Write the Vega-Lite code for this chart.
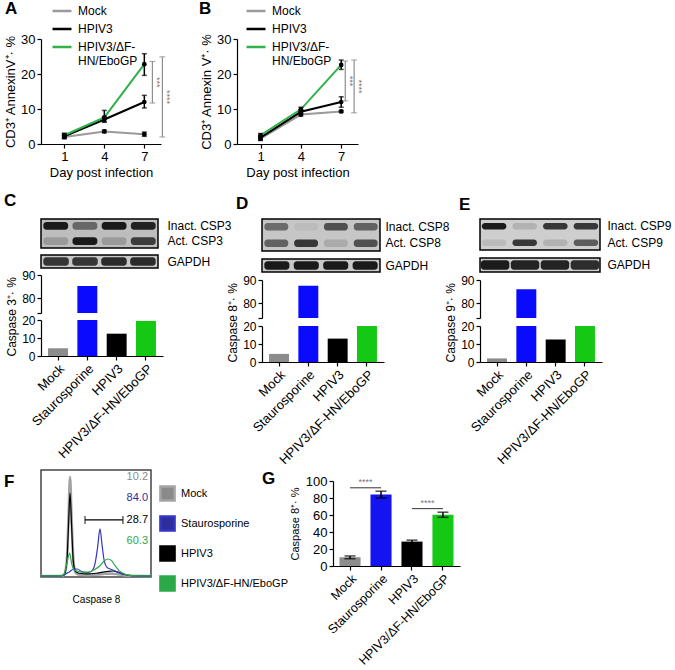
{
  "$schema": "https://vega.github.io/schema/vega-lite/v6.json",
  "padding": {"left": 3, "top": 0, "right": 0, "bottom": 0},
  "background": "white",
  "config": {
    "font": "Liberation Sans",
    "view": {"stroke": null},
    "axis": {"labelFont": "Liberation Sans", "titleFont": "Liberation Sans", "labelColor": "#000", "titleColor": "#000", "domainColor": "#000", "tickColor": "#000", "grid": false, "labelFontSize": 12, "titleFontSize": 13, "titleFontWeight": "normal", "tickSize": 4, "domainWidth": 1.2, "tickWidth": 1.2, "labelPadding": 2, "titlePadding": 3, "labelOverlap": false},
    "legend": {"labelFont": "Liberation Sans", "labelColor": "#000", "padding": 0},
    "title": {"font": "Liberation Sans", "fontSize": 17, "fontWeight": "bold", "color": "#000", "anchor": "start", "frame": "group"}
  },
  "datasets": {
    "lineA": [
      {"day": 1, "grp": "Mock", "m": 2.0, "lo": 1.5, "hi": 2.5},
      {"day": 4, "grp": "Mock", "m": 3.6, "lo": 3.2, "hi": 4.0},
      {"day": 7, "grp": "Mock", "m": 2.8, "lo": 2.2, "hi": 3.4},
      {"day": 1, "grp": "HPIV3", "m": 2.2, "lo": 1.6, "hi": 2.8},
      {"day": 4, "grp": "HPIV3", "m": 7.0, "lo": 6.2, "hi": 7.8},
      {"day": 7, "grp": "HPIV3", "m": 12.0, "lo": 10.3, "hi": 13.9},
      {"day": 1, "grp": "HPIV3/ΔF-HN/EboGP", "m": 2.5, "lo": 1.9, "hi": 3.1},
      {"day": 4, "grp": "HPIV3/ΔF-HN/EboGP", "m": 7.6, "lo": 6.4, "hi": 9.6},
      {"day": 7, "grp": "HPIV3/ΔF-HN/EboGP", "m": 22.8, "lo": 19.6, "hi": 25.8}
    ],
    "lineB": [
      {"day": 1, "grp": "Mock", "m": 1.5, "lo": 1.0, "hi": 2.0},
      {"day": 4, "grp": "Mock", "m": 8.4, "lo": 8.0, "hi": 8.8},
      {"day": 7, "grp": "Mock", "m": 9.3, "lo": 9.0, "hi": 9.6},
      {"day": 1, "grp": "HPIV3", "m": 1.8, "lo": 1.2, "hi": 2.4},
      {"day": 4, "grp": "HPIV3", "m": 9.2, "lo": 8.6, "hi": 9.8},
      {"day": 7, "grp": "HPIV3", "m": 12.0, "lo": 10.5, "hi": 13.5},
      {"day": 1, "grp": "HPIV3/ΔF-HN/EboGP", "m": 2.5, "lo": 2.0, "hi": 3.0},
      {"day": 4, "grp": "HPIV3/ΔF-HN/EboGP", "m": 9.9, "lo": 9.3, "hi": 10.5},
      {"day": 7, "grp": "HPIV3/ΔF-HN/EboGP", "m": 22.6, "lo": 21.3, "hi": 24.0}
    ],
    "sigA": [
      {"bx": 7.6, "b1": 11.7, "b2": 23.6, "stars": "***"},
      {"bx": 8.35, "b1": 2.0, "b2": 24.9, "stars": "****"}
    ],
    "sigB": [
      {"bx": 7.3, "b1": 12.3, "b2": 23.7, "stars": "***"},
      {"bx": 7.96, "b1": 8.9, "b2": 24.0, "stars": "****"}
    ],
    "blotC": [
      {"lane": 1, "band": "Inact. CSP3", "v": 0.95}, {"lane": 2, "band": "Inact. CSP3", "v": 0.5}, {"lane": 3, "band": "Inact. CSP3", "v": 0.95}, {"lane": 4, "band": "Inact. CSP3", "v": 0.9},
      {"lane": 1, "band": "Act. CSP3", "v": 0.2}, {"lane": 2, "band": "Act. CSP3", "v": 0.95}, {"lane": 3, "band": "Act. CSP3", "v": 0.2}, {"lane": 4, "band": "Act. CSP3", "v": 0.75}
    ],
    "blotD": [
      {"lane": 1, "band": "Inact. CSP8", "v": 0.5}, {"lane": 2, "band": "Inact. CSP8", "v": 0.05}, {"lane": 3, "band": "Inact. CSP8", "v": 0.65}, {"lane": 4, "band": "Inact. CSP8", "v": 0.55},
      {"lane": 1, "band": "Act. CSP8", "v": 0.55}, {"lane": 2, "band": "Act. CSP8", "v": 0.8}, {"lane": 3, "band": "Act. CSP8", "v": 0.15}, {"lane": 4, "band": "Act. CSP8", "v": 0.65}
    ],
    "blotE": [
      {"lane": 1, "band": "Inact. CSP9", "v": 0.95}, {"lane": 2, "band": "Inact. CSP9", "v": 0.15}, {"lane": 3, "band": "Inact. CSP9", "v": 0.8}, {"lane": 4, "band": "Inact. CSP9", "v": 0.8},
      {"lane": 1, "band": "Act. CSP9", "v": 0.1}, {"lane": 2, "band": "Act. CSP9", "v": 0.8}, {"lane": 3, "band": "Act. CSP9", "v": 0.15}, {"lane": 4, "band": "Act. CSP9", "v": 0.6}
    ],
    "gapC": [{"lane": 1, "band": "GAPDH", "v": 0.8}, {"lane": 2, "band": "GAPDH", "v": 0.8}, {"lane": 3, "band": "GAPDH", "v": 0.85}, {"lane": 4, "band": "GAPDH", "v": 0.85}],
    "gapD": [{"lane": 1, "band": "GAPDH", "v": 0.95}, {"lane": 2, "band": "GAPDH", "v": 0.95}, {"lane": 3, "band": "GAPDH", "v": 0.95}, {"lane": 4, "band": "GAPDH", "v": 0.95}],
    "gapE": [{"lane": 1, "band": "GAPDH", "v": 0.95}, {"lane": 2, "band": "GAPDH", "v": 0.9}, {"lane": 3, "band": "GAPDH", "v": 0.9}, {"lane": 4, "band": "GAPDH", "v": 0.85}],
    "barsC": [{"cond": "Mock", "val": 4.3}, {"cond": "Staurosporine", "val": 85.2}, {"cond": "HPIV3", "val": 12.4}, {"cond": "HPIV3/ΔF-HN/EboGP", "val": 19.5}],
    "barsD": [{"cond": "Mock", "val": 4.5}, {"cond": "Staurosporine", "val": 87.5}, {"cond": "HPIV3", "val": 13.0}, {"cond": "HPIV3/ΔF-HN/EboGP", "val": 20.5}],
    "barsE": [{"cond": "Mock", "val": 2.0}, {"cond": "Staurosporine", "val": 86.0}, {"cond": "HPIV3", "val": 12.5}, {"cond": "HPIV3/ΔF-HN/EboGP", "val": 20.0}],
    "curves": [
      {"ser": "Mock", "fl": 0, "cnt": 1}, {"ser": "Mock", "fl": 18, "cnt": 1}, {"ser": "Mock", "fl": 21, "cnt": 2}, {"ser": "Mock", "fl": 23.5, "cnt": 15}, {"ser": "Mock", "fl": 25, "cnt": 55}, {"ser": "Mock", "fl": 26.4, "cnt": 93.5}, {"ser": "Mock", "fl": 27.8, "cnt": 55}, {"ser": "Mock", "fl": 29.5, "cnt": 15}, {"ser": "Mock", "fl": 31.5, "cnt": 4}, {"ser": "Mock", "fl": 35, "cnt": 2.2}, {"ser": "Mock", "fl": 45, "cnt": 2}, {"ser": "Mock", "fl": 52, "cnt": 2.3}, {"ser": "Mock", "fl": 58, "cnt": 3}, {"ser": "Mock", "fl": 63, "cnt": 3.2}, {"ser": "Mock", "fl": 68, "cnt": 2.8}, {"ser": "Mock", "fl": 74, "cnt": 1.8}, {"ser": "Mock", "fl": 80, "cnt": 1.2}, {"ser": "Mock", "fl": 100, "cnt": 1},
      {"ser": "HPIV3", "fl": 0, "cnt": 1}, {"ser": "HPIV3", "fl": 18, "cnt": 1}, {"ser": "HPIV3", "fl": 21, "cnt": 2}, {"ser": "HPIV3", "fl": 23.5, "cnt": 14}, {"ser": "HPIV3", "fl": 25, "cnt": 48}, {"ser": "HPIV3", "fl": 26.4, "cnt": 78.5}, {"ser": "HPIV3", "fl": 27.8, "cnt": 48}, {"ser": "HPIV3", "fl": 29.5, "cnt": 13}, {"ser": "HPIV3", "fl": 31.5, "cnt": 5}, {"ser": "HPIV3", "fl": 35, "cnt": 3.5}, {"ser": "HPIV3", "fl": 42, "cnt": 3}, {"ser": "HPIV3", "fl": 50, "cnt": 3.5}, {"ser": "HPIV3", "fl": 56, "cnt": 4.5}, {"ser": "HPIV3", "fl": 61, "cnt": 5.3}, {"ser": "HPIV3", "fl": 65.5, "cnt": 5.6}, {"ser": "HPIV3", "fl": 70, "cnt": 4.5}, {"ser": "HPIV3", "fl": 75, "cnt": 2.6}, {"ser": "HPIV3", "fl": 82, "cnt": 1.3}, {"ser": "HPIV3", "fl": 100, "cnt": 1},
      {"ser": "Staurosporine", "fl": 0, "cnt": 1}, {"ser": "Staurosporine", "fl": 18, "cnt": 1}, {"ser": "Staurosporine", "fl": 22, "cnt": 2.5}, {"ser": "Staurosporine", "fl": 26, "cnt": 5}, {"ser": "Staurosporine", "fl": 30, "cnt": 7.5}, {"ser": "Staurosporine", "fl": 33, "cnt": 7.5}, {"ser": "Staurosporine", "fl": 37, "cnt": 5}, {"ser": "Staurosporine", "fl": 42, "cnt": 4}, {"ser": "Staurosporine", "fl": 46, "cnt": 5.5}, {"ser": "Staurosporine", "fl": 49, "cnt": 12}, {"ser": "Staurosporine", "fl": 51.5, "cnt": 28}, {"ser": "Staurosporine", "fl": 53.6, "cnt": 45}, {"ser": "Staurosporine", "fl": 55.5, "cnt": 30}, {"ser": "Staurosporine", "fl": 57.5, "cnt": 15}, {"ser": "Staurosporine", "fl": 60, "cnt": 9}, {"ser": "Staurosporine", "fl": 64, "cnt": 7}, {"ser": "Staurosporine", "fl": 70, "cnt": 4.5}, {"ser": "Staurosporine", "fl": 76, "cnt": 2.5}, {"ser": "Staurosporine", "fl": 82, "cnt": 1.3}, {"ser": "Staurosporine", "fl": 100, "cnt": 1},
      {"ser": "HPIV3/ΔF-HN/EboGP", "fl": 0, "cnt": 1}, {"ser": "HPIV3/ΔF-HN/EboGP", "fl": 18, "cnt": 1}, {"ser": "HPIV3/ΔF-HN/EboGP", "fl": 21, "cnt": 3}, {"ser": "HPIV3/ΔF-HN/EboGP", "fl": 23.5, "cnt": 13}, {"ser": "HPIV3/ΔF-HN/EboGP", "fl": 26, "cnt": 22.4}, {"ser": "HPIV3/ΔF-HN/EboGP", "fl": 28, "cnt": 12}, {"ser": "HPIV3/ΔF-HN/EboGP", "fl": 30, "cnt": 6.5}, {"ser": "HPIV3/ΔF-HN/EboGP", "fl": 33, "cnt": 5.5}, {"ser": "HPIV3/ΔF-HN/EboGP", "fl": 38, "cnt": 4.5}, {"ser": "HPIV3/ΔF-HN/EboGP", "fl": 43, "cnt": 4.5}, {"ser": "HPIV3/ΔF-HN/EboGP", "fl": 48, "cnt": 6.5}, {"ser": "HPIV3/ΔF-HN/EboGP", "fl": 53, "cnt": 10}, {"ser": "HPIV3/ΔF-HN/EboGP", "fl": 57, "cnt": 14.5}, {"ser": "HPIV3/ΔF-HN/EboGP", "fl": 61, "cnt": 16.8}, {"ser": "HPIV3/ΔF-HN/EboGP", "fl": 64, "cnt": 15.5}, {"ser": "HPIV3/ΔF-HN/EboGP", "fl": 67, "cnt": 11}, {"ser": "HPIV3/ΔF-HN/EboGP", "fl": 71, "cnt": 6}, {"ser": "HPIV3/ΔF-HN/EboGP", "fl": 76, "cnt": 2.8}, {"ser": "HPIV3/ΔF-HN/EboGP", "fl": 82, "cnt": 1.3}, {"ser": "HPIV3/ΔF-HN/EboGP", "fl": 100, "cnt": 1}
    ],
    "gateF": [{"g1": 40, "g2": 74.5, "gy": 53.3}],
    "pctF": [{"ser": "Mock", "pct": "10.2"}, {"ser": "Staurosporine", "pct": "84.0"}, {"ser": "HPIV3", "pct": "28.7"}, {"ser": "HPIV3/ΔF-HN/EboGP", "pct": "60.3"}],
    "barsG": [
      {"cond": "Mock", "val": 10.2, "lo": 8.6, "hi": 11.8},
      {"cond": "Staurosporine", "val": 84.0, "lo": 80.0, "hi": 88.0},
      {"cond": "HPIV3", "val": 28.7, "lo": 27.0, "hi": 30.4},
      {"cond": "HPIV3/ΔF-HN/EboGP", "val": 60.3, "lo": 57.3, "hi": 63.3}
    ],
    "sigG": [
      {"a": "Mock", "b": "Staurosporine", "h": 92, "stars": "****"},
      {"a": "HPIV3", "b": "HPIV3/ΔF-HN/EboGP", "h": 67.5, "stars": "****"}
    ]
  },
  "spacing": 12,
  "resolve": {"scale": {"color": "independent", "opacity": "independent", "fill": "independent"}, "legend": {"color": "independent"}},
  "vconcat": [
    {
      "spacing": 76, "bounds": "flush",
      "resolve": {"scale": {"color": "independent", "opacity": "independent"}, "legend": {"color": "independent"}},
      "hconcat": [
        {
          "width": 120, "height": 105,
          "title": {"text": "A", "dx": -36, "dy": 18, "offset": 0},
          "resolve": {"axis": {"x": "independent", "y": "independent"}},
          "layer": [
            {"data": {"name": "lineA"}, "mark": {"type": "line", "strokeWidth": 2},
             "encoding": {
               "x": {"field": "day", "type": "quantitative", "scale": {"domain": [-0.75, 8.25], "nice": false, "zero": false}, "axis": {"values": [1, 4, 7], "title": "Day post infection", "labelFontSize": 13, "titleFontSize": 13, "labelOverlap": false}},
               "y": {"field": "m", "type": "quantitative", "scale": {"domain": [0, 30], "nice": false}, "axis": {"values": [0, 10, 20, 30], "title": "CD3⁺ AnnexinV⁺· %", "labelFontSize": 13, "titleFontSize": 13, "labelOverlap": false}},
               "color": {"field": "grp", "type": "nominal", "sort": null, "scale": {"domain": ["Mock", "HPIV3", "HPIV3/ΔF-HN/EboGP"], "range": ["#9a9a9a", "#000000", "#2db34a"]},
                 "legend": {"title": null, "orient": "none", "legendX": 10, "legendY": -39, "symbolType": "stroke", "symbolStrokeWidth": 2.5, "symbolSize": 360, "labelFontSize": 12, "labelOffset": 5, "rowPadding": 1, "labelExpr": "datum.label == 'HPIV3/ΔF-HN/EboGP' ? ['HPIV3/ΔF-', 'HN/EboGP'] : datum.label"}}
             }},
            {"data": {"name": "lineA"}, "mark": {"type": "rule", "color": "#000", "strokeWidth": 1.5},
             "encoding": {"x": {"field": "day", "type": "quantitative", "axis": null}, "y": {"field": "lo", "type": "quantitative", "axis": null}, "y2": {"field": "hi"}}},
            {"data": {"name": "lineA"}, "mark": {"type": "tick", "orient": "horizontal", "color": "#000", "size": 5, "thickness": 1.5},
             "encoding": {"x": {"field": "day", "type": "quantitative", "axis": null}, "y": {"field": "lo", "type": "quantitative", "axis": null}}},
            {"data": {"name": "lineA"}, "mark": {"type": "tick", "orient": "horizontal", "color": "#000", "size": 5, "thickness": 1.5},
             "encoding": {"x": {"field": "day", "type": "quantitative", "axis": null}, "y": {"field": "hi", "type": "quantitative", "axis": null}}},
            {"data": {"name": "lineA"}, "mark": {"type": "point", "filled": true, "color": "#000", "size": 22, "opacity": 1},
             "encoding": {"x": {"field": "day", "type": "quantitative", "axis": null}, "y": {"field": "m", "type": "quantitative", "axis": null}}},
            {"data": {"name": "sigA"}, "mark": {"type": "rule", "color": "#777", "strokeWidth": 1},
             "encoding": {"x": {"field": "bx", "type": "quantitative", "axis": null}, "y": {"field": "b1", "type": "quantitative", "axis": null}, "y2": {"field": "b2"}}},
            {"data": {"name": "sigA"}, "mark": {"type": "tick", "orient": "horizontal", "color": "#777", "size": 6, "thickness": 1},
             "encoding": {"x": {"field": "bx", "type": "quantitative", "axis": null}, "y": {"field": "b1", "type": "quantitative", "axis": null}}},
            {"data": {"name": "sigA"}, "mark": {"type": "tick", "orient": "horizontal", "color": "#777", "size": 6, "thickness": 1},
             "encoding": {"x": {"field": "bx", "type": "quantitative", "axis": null}, "y": {"field": "b2", "type": "quantitative", "axis": null}}},
            {"data": {"name": "sigA"}, "transform": [{"calculate": "(datum.b1 + datum.b2) / 2", "as": "bm"}],
             "mark": {"type": "text", "angle": 90, "color": "#777", "fontSize": 9, "baseline": "bottom", "align": "center"},
             "encoding": {"x": {"field": "bx", "type": "quantitative", "axis": null}, "y": {"field": "bm", "type": "quantitative", "axis": null}, "text": {"field": "stars"}}}
          ]
        },
        {
          "width": 121, "height": 105,
          "title": {"text": "B", "dx": -38, "dy": 18, "offset": 0},
          "resolve": {"axis": {"x": "independent", "y": "independent"}},
          "layer": [
            {"data": {"name": "lineB"}, "mark": {"type": "line", "strokeWidth": 2},
             "encoding": {
               "x": {"field": "day", "type": "quantitative", "scale": {"domain": [-0.75, 8.25], "nice": false, "zero": false}, "axis": {"values": [1, 4, 7], "title": "Day post infection", "labelFontSize": 13, "titleFontSize": 13, "labelOverlap": false}},
               "y": {"field": "m", "type": "quantitative", "scale": {"domain": [0, 30], "nice": false}, "axis": {"values": [0, 10, 20, 30], "title": "CD3⁺ Annexin V⁺· %", "labelFontSize": 13, "titleFontSize": 13, "labelOverlap": false}},
               "color": {"field": "grp", "type": "nominal", "sort": null, "scale": {"domain": ["Mock", "HPIV3", "HPIV3/ΔF-HN/EboGP"], "range": ["#9a9a9a", "#000000", "#2db34a"]},
                 "legend": {"title": null, "orient": "none", "legendX": 8, "legendY": -39, "symbolType": "stroke", "symbolStrokeWidth": 2.5, "symbolSize": 360, "labelFontSize": 12, "labelOffset": 5, "rowPadding": 1, "labelExpr": "datum.label == 'HPIV3/ΔF-HN/EboGP' ? ['HPIV3/ΔF-', 'HN/EboGP'] : datum.label"}}
             }},
            {"data": {"name": "lineB"}, "mark": {"type": "rule", "color": "#000", "strokeWidth": 1.5},
             "encoding": {"x": {"field": "day", "type": "quantitative", "axis": null}, "y": {"field": "lo", "type": "quantitative", "axis": null}, "y2": {"field": "hi"}}},
            {"data": {"name": "lineB"}, "mark": {"type": "tick", "orient": "horizontal", "color": "#000", "size": 5, "thickness": 1.5},
             "encoding": {"x": {"field": "day", "type": "quantitative", "axis": null}, "y": {"field": "lo", "type": "quantitative", "axis": null}}},
            {"data": {"name": "lineB"}, "mark": {"type": "tick", "orient": "horizontal", "color": "#000", "size": 5, "thickness": 1.5},
             "encoding": {"x": {"field": "day", "type": "quantitative", "axis": null}, "y": {"field": "hi", "type": "quantitative", "axis": null}}},
            {"data": {"name": "lineB"}, "mark": {"type": "point", "filled": true, "color": "#000", "size": 22, "opacity": 1},
             "encoding": {"x": {"field": "day", "type": "quantitative", "axis": null}, "y": {"field": "m", "type": "quantitative", "axis": null}}},
            {"data": {"name": "sigB"}, "mark": {"type": "rule", "color": "#777", "strokeWidth": 1},
             "encoding": {"x": {"field": "bx", "type": "quantitative", "axis": null}, "y": {"field": "b1", "type": "quantitative", "axis": null}, "y2": {"field": "b2"}}},
            {"data": {"name": "sigB"}, "mark": {"type": "tick", "orient": "horizontal", "color": "#777", "size": 6, "thickness": 1},
             "encoding": {"x": {"field": "bx", "type": "quantitative", "axis": null}, "y": {"field": "b1", "type": "quantitative", "axis": null}}},
            {"data": {"name": "sigB"}, "mark": {"type": "tick", "orient": "horizontal", "color": "#777", "size": 6, "thickness": 1},
             "encoding": {"x": {"field": "bx", "type": "quantitative", "axis": null}, "y": {"field": "b2", "type": "quantitative", "axis": null}}},
            {"data": {"name": "sigB"}, "transform": [{"calculate": "(datum.b1 + datum.b2) / 2", "as": "bm"}],
             "mark": {"type": "text", "angle": 90, "color": "#777", "fontSize": 9, "baseline": "bottom", "align": "center"},
             "encoding": {"x": {"field": "bx", "type": "quantitative", "axis": null}, "y": {"field": "bm", "type": "quantitative", "axis": null}, "text": {"field": "stars"}}}
          ]
        }
      ]
    },
    {
      "spacing": 2,
      "resolve": {"scale": {"color": "independent", "opacity": "independent", "fill": "independent"}, "legend": {"color": "independent"}},
      "vconcat": [
        {
          "spacing": -6,
          "resolve": {"scale": {"color": "independent", "opacity": "independent"}, "legend": {"color": "independent"}},
          "hconcat": [
            {
              "spacing": 7, "bounds": "flush",
              "resolve": {"scale": {"color": "independent", "opacity": "independent"}, "legend": {"color": "independent"}},
              "vconcat": [
                {"width": 117, "height": 29,
                 "title": {"text": "C", "dx": -37, "offset": 9},
                 "view": {"fill": "#bdbdbd", "stroke": "#000", "strokeWidth": 1.5},
                 "data": {"name": "blotC"},
                 "mark": {"type": "rect", "color": "#111", "cornerRadius": 3},
                 "encoding": {
                   "x": {"field": "lane", "type": "ordinal", "scale": {"paddingInner": 0.15, "paddingOuter": 0.08}, "axis": null},
                   "y": {"field": "band", "type": "nominal", "sort": null, "scale": {"paddingInner": 0.5, "paddingOuter": 0.2}, "axis": {"orient": "right", "domain": false, "ticks": false, "labelFontSize": 12, "labelPadding": 9, "title": null}},
                   "opacity": {"field": "v", "type": "quantitative", "scale": {"domain": [0, 1], "range": [0, 1]}, "legend": null}
                 }},
                {"width": 117, "height": 13,
                 "view": {"fill": "#c8c8c8", "stroke": "#000", "strokeWidth": 1.5},
                 "data": {"name": "gapC"},
                 "mark": {"type": "rect", "color": "#111", "cornerRadius": 3},
                 "encoding": {
                   "x": {"field": "lane", "type": "ordinal", "scale": {"paddingInner": 0.12, "paddingOuter": 0.08}, "axis": null},
                   "y": {"field": "band", "type": "nominal", "scale": {"paddingOuter": 0.25}, "axis": {"orient": "right", "domain": false, "ticks": false, "labelFontSize": 12, "labelPadding": 9, "title": null}},
                   "opacity": {"field": "v", "type": "quantitative", "scale": {"domain": [0, 1], "range": [0, 1]}, "legend": null}
                 }},
                {"width": 122, "height": 38,
                 "data": {"name": "barsC"},
                 "mark": {"type": "bar", "clip": true},
                 "encoding": {
                   "x": {"field": "cond", "type": "nominal", "sort": null, "scale": {"paddingInner": 0.32, "paddingOuter": 0.24}, "axis": null},
                   "y": {"field": "val", "type": "quantitative", "scale": {"domain": [73.5, 90], "nice": false, "zero": false}, "axis": {"values": [73.5, 80, 90], "labelExpr": "datum.value < 75 ? '' : datum.label", "title": null, "labelFontSize": 12}},
                   "y2": {"datum": 0},
                   "color": {"field": "cond", "type": "nominal", "sort": null, "scale": {"domain": ["Mock", "Staurosporine", "HPIV3", "HPIV3/ΔF-HN/EboGP"], "range": ["#8c8c8c", "#0a0aff", "#000000", "#14c814"]}, "legend": null}
                 }},
                {"width": 122, "height": 36,
                 "data": {"name": "barsC"},
                 "mark": {"type": "bar", "clip": true},
                 "encoding": {
                   "x": {"field": "cond", "type": "nominal", "sort": null, "scale": {"paddingInner": 0.32, "paddingOuter": 0.24}, "axis": {"labelAngle": -45, "title": null, "labelFontSize": 13}},
                   "y": {"field": "val", "type": "quantitative", "scale": {"domain": [0, 20], "nice": false}, "axis": {"values": [0, 10, 20], "title": "Caspase 3⁺· %", "titleAnchor": "start", "labelFontSize": 12, "titleFontSize": 12}},
                   "color": {"field": "cond", "type": "nominal", "sort": null, "scale": {"domain": ["Mock", "Staurosporine", "HPIV3", "HPIV3/ΔF-HN/EboGP"], "range": ["#8c8c8c", "#0a0aff", "#000000", "#14c814"]}, "legend": null}
                 }}
              ]
            },
            {
              "spacing": 8, "bounds": "flush",
              "resolve": {"scale": {"color": "independent", "opacity": "independent"}, "legend": {"color": "independent"}},
              "vconcat": [
                {"width": 118, "height": 32,
                 "title": {"text": "D", "dx": -26, "offset": 6},
                 "view": {"fill": "#c6c6c6", "stroke": "#000", "strokeWidth": 1.5},
                 "data": {"name": "blotD"},
                 "mark": {"type": "rect", "color": "#111", "cornerRadius": 3},
                 "encoding": {
                   "x": {"field": "lane", "type": "ordinal", "scale": {"paddingInner": 0.2, "paddingOuter": 0.08}, "axis": null},
                   "y": {"field": "band", "type": "nominal", "sort": null, "scale": {"paddingInner": 0.55, "paddingOuter": 0.25}, "axis": {"orient": "right", "domain": false, "ticks": false, "labelFontSize": 12, "labelPadding": 5, "title": null}},
                   "opacity": {"field": "v", "type": "quantitative", "scale": {"domain": [0, 1], "range": [0, 1]}, "legend": null}
                 }},
                {"width": 118, "height": 13,
                 "view": {"fill": "#c8c8c8", "stroke": "#000", "strokeWidth": 1.5},
                 "data": {"name": "gapD"},
                 "mark": {"type": "rect", "color": "#111", "cornerRadius": 3},
                 "encoding": {
                   "x": {"field": "lane", "type": "ordinal", "scale": {"paddingInner": 0.15, "paddingOuter": 0.08}, "axis": null},
                   "y": {"field": "band", "type": "nominal", "scale": {"paddingOuter": 0.25}, "axis": {"orient": "right", "domain": false, "ticks": false, "labelFontSize": 12, "labelPadding": 5, "title": null}},
                   "opacity": {"field": "v", "type": "quantitative", "scale": {"domain": [0, 1], "range": [0, 1]}, "legend": null}
                 }},
                {"width": 122, "height": 38,
                 "data": {"name": "barsD"},
                 "mark": {"type": "bar", "clip": true},
                 "encoding": {
                   "x": {"field": "cond", "type": "nominal", "sort": null, "scale": {"paddingInner": 0.32, "paddingOuter": 0.24}, "axis": null},
                   "y": {"field": "val", "type": "quantitative", "scale": {"domain": [73.5, 90], "nice": false, "zero": false}, "axis": {"values": [73.5, 80, 90], "labelExpr": "datum.value < 75 ? '' : datum.label", "title": null, "labelFontSize": 12}},
                   "y2": {"datum": 0},
                   "color": {"field": "cond", "type": "nominal", "sort": null, "scale": {"domain": ["Mock", "Staurosporine", "HPIV3", "HPIV3/ΔF-HN/EboGP"], "range": ["#8c8c8c", "#0a0aff", "#000000", "#14c814"]}, "legend": null}
                 }},
                {"width": 122, "height": 36,
                 "data": {"name": "barsD"},
                 "mark": {"type": "bar", "clip": true},
                 "encoding": {
                   "x": {"field": "cond", "type": "nominal", "sort": null, "scale": {"paddingInner": 0.32, "paddingOuter": 0.24}, "axis": {"labelAngle": -45, "title": null, "labelFontSize": 13}},
                   "y": {"field": "val", "type": "quantitative", "scale": {"domain": [0, 20], "nice": false}, "axis": {"values": [0, 10, 20], "title": "Caspase 8⁺· %", "titleAnchor": "start", "labelFontSize": 12, "titleFontSize": 12}},
                   "color": {"field": "cond", "type": "nominal", "sort": null, "scale": {"domain": ["Mock", "Staurosporine", "HPIV3", "HPIV3/ΔF-HN/EboGP"], "range": ["#8c8c8c", "#0a0aff", "#000000", "#14c814"]}, "legend": null}
                 }}
              ]
            },
            {
              "spacing": 8, "bounds": "flush",
              "resolve": {"scale": {"color": "independent", "opacity": "independent"}, "legend": {"color": "independent"}},
              "vconcat": [
                {"width": 120, "height": 31,
                 "title": {"text": "E", "dx": -21, "offset": 5},
                 "view": {"fill": "#cecece", "stroke": "#000", "strokeWidth": 1.5},
                 "data": {"name": "blotE"},
                 "mark": {"type": "rect", "color": "#111", "cornerRadius": 3},
                 "encoding": {
                   "x": {"field": "lane", "type": "ordinal", "scale": {"paddingInner": 0.2, "paddingOuter": 0.06}, "axis": null},
                   "y": {"field": "band", "type": "nominal", "sort": null, "scale": {"paddingInner": 0.6, "paddingOuter": 0.25}, "axis": {"orient": "right", "domain": false, "ticks": false, "labelFontSize": 12, "labelPadding": 7, "title": null}},
                   "opacity": {"field": "v", "type": "quantitative", "scale": {"domain": [0, 1], "range": [0, 1]}, "legend": null}
                 }},
                {"width": 120, "height": 14,
                 "view": {"fill": "#cecece", "stroke": "#000", "strokeWidth": 1.5},
                 "data": {"name": "gapE"},
                 "mark": {"type": "rect", "color": "#111", "cornerRadius": 3},
                 "encoding": {
                   "x": {"field": "lane", "type": "ordinal", "scale": {"paddingInner": 0.05, "paddingOuter": 0.03}, "axis": null},
                   "y": {"field": "band", "type": "nominal", "scale": {"paddingOuter": 0.25}, "axis": {"orient": "right", "domain": false, "ticks": false, "labelFontSize": 12, "labelPadding": 7, "title": null}},
                   "opacity": {"field": "v", "type": "quantitative", "scale": {"domain": [0, 1], "range": [0, 1]}, "legend": null}
                 }},
                {"width": 122, "height": 38,
                 "data": {"name": "barsE"},
                 "mark": {"type": "bar", "clip": true},
                 "encoding": {
                   "x": {"field": "cond", "type": "nominal", "sort": null, "scale": {"paddingInner": 0.32, "paddingOuter": 0.24}, "axis": null},
                   "y": {"field": "val", "type": "quantitative", "scale": {"domain": [73.5, 90], "nice": false, "zero": false}, "axis": {"values": [73.5, 80, 90], "labelExpr": "datum.value < 75 ? '' : datum.label", "title": null, "labelFontSize": 12}},
                   "y2": {"datum": 0},
                   "color": {"field": "cond", "type": "nominal", "sort": null, "scale": {"domain": ["Mock", "Staurosporine", "HPIV3", "HPIV3/ΔF-HN/EboGP"], "range": ["#8c8c8c", "#0a0aff", "#000000", "#14c814"]}, "legend": null}
                 }},
                {"width": 122, "height": 36,
                 "data": {"name": "barsE"},
                 "mark": {"type": "bar", "clip": true},
                 "encoding": {
                   "x": {"field": "cond", "type": "nominal", "sort": null, "scale": {"paddingInner": 0.32, "paddingOuter": 0.24}, "axis": {"labelAngle": -45, "title": null, "labelFontSize": 13}},
                   "y": {"field": "val", "type": "quantitative", "scale": {"domain": [0, 20], "nice": false}, "axis": {"values": [0, 10, 20], "title": "Caspase 9⁺· %", "titleAnchor": "start", "labelFontSize": 12, "titleFontSize": 12}},
                   "color": {"field": "cond", "type": "nominal", "sort": null, "scale": {"domain": ["Mock", "Staurosporine", "HPIV3", "HPIV3/ΔF-HN/EboGP"], "range": ["#8c8c8c", "#0a0aff", "#000000", "#14c814"]}, "legend": null}
                 }}
              ]
            }
          ]
        },
        {
          "spacing": 182, "bounds": "flush", "center": true,
          "resolve": {"scale": {"color": "independent", "opacity": "independent", "fill": "independent"}, "legend": {"color": "independent"}},
          "hconcat": [
            {
              "width": 110, "height": 107,
              "title": {"text": "F", "dx": -37, "dy": 21, "offset": 0},
              "view": {"stroke": "#444", "strokeWidth": 1.5},
              "resolve": {"scale": {"y": "independent"}},
              "layer": [
                {"data": {"name": "pctF"},
                 "mark": {"type": "point", "shape": "square", "filled": false, "opacity": 0, "size": 30, "strokeWidth": 2.5},
                 "encoding": {
                   "x": {"datum": 97.3, "type": "quantitative", "scale": {"domain": [0, 100], "nice": false}, "axis": {"title": "Caspase 8", "domain": false, "ticks": false, "labels": false, "titleFontSize": 10, "titlePadding": 17}},
                   "y": {"field": "ser", "type": "nominal", "sort": null, "scale": {"type": "point", "domain": ["Mock", "Staurosporine", "HPIV3", "HPIV3/ΔF-HN/EboGP"], "padding": 2.71, "align": 0.16}, "axis": null},
                   "color": {"field": "ser", "type": "nominal", "sort": null, "scale": {"domain": ["Mock", "Staurosporine", "HPIV3", "HPIV3/ΔF-HN/EboGP"], "range": ["#a4a4a4", "#3535c4", "#000000", "#2daa48"]},
                     "legend": {"title": null, "orient": "none", "legendX": 118, "legendY": 15, "symbolType": "square", "symbolSize": 200, "symbolStrokeWidth": 2.5, "symbolOpacity": 1, "symbolFillColor": "transparent", "labelFontSize": 11, "labelOffset": 5, "rowPadding": 5}}
                 }},
                {"data": {"name": "curves"},
                 "transform": [{"filter": "datum.ser == 'Mock'"}],
                 "mark": {"type": "line", "interpolate": "monotone", "strokeWidth": 2.6},
                 "encoding": {
                   "x": {"field": "fl", "type": "quantitative"},
                   "y": {"field": "cnt", "type": "quantitative", "scale": {"domain": [0, 100], "nice": false}, "axis": null},
                   "color": {"field": "ser", "type": "nominal", "sort": null}
                 }},
                {"data": {"name": "curves"},
                 "transform": [{"filter": "datum.ser != 'Mock'"}],
                 "mark": {"type": "line", "interpolate": "monotone", "strokeWidth": 1.2},
                 "encoding": {
                   "x": {"field": "fl", "type": "quantitative"},
                   "y": {"field": "cnt", "type": "quantitative", "scale": {"domain": [0, 100], "nice": false}, "axis": null},
                   "color": {"field": "ser", "type": "nominal", "sort": null}
                 }},
                {"data": {"name": "gateF"},
                 "layer": [
                   {"mark": {"type": "rule", "color": "#000", "strokeWidth": 1.3},
                    "encoding": {"x": {"field": "g1", "type": "quantitative"}, "x2": {"field": "g2"}, "y": {"field": "gy", "type": "quantitative", "scale": {"domain": [0, 100], "nice": false}, "axis": null}}},
                   {"mark": {"type": "tick", "orient": "vertical", "color": "#000", "size": 8, "thickness": 1.3},
                    "encoding": {"x": {"field": "g1", "type": "quantitative"}, "y": {"field": "gy", "type": "quantitative", "axis": null}}},
                   {"mark": {"type": "tick", "orient": "vertical", "color": "#000", "size": 8, "thickness": 1.3},
                    "encoding": {"x": {"field": "g2", "type": "quantitative"}, "y": {"field": "gy", "type": "quantitative", "axis": null}}}
                 ]},
                {"data": {"name": "pctF"},
                 "mark": {"type": "text", "align": "right", "baseline": "middle", "fontSize": 11},
                 "encoding": {
                   "x": {"datum": 97.3, "type": "quantitative"},
                   "y": {"field": "ser", "type": "nominal", "sort": null, "scale": {"type": "point", "domain": ["Mock", "Staurosporine", "HPIV3", "HPIV3/ΔF-HN/EboGP"], "padding": 2.71, "align": 0.16}, "axis": null},
                   "text": {"field": "pct"},
                   "fill": {"field": "ser", "type": "nominal", "sort": null, "scale": {"domain": ["Mock", "Staurosporine", "HPIV3", "HPIV3/ΔF-HN/EboGP"], "range": ["#8a8a8a", "#2d2d9e", "#000000", "#2aa84a"]}, "legend": null}
                 }},
                {"mark": {"type": "rule", "color": "#000", "strokeWidth": 1.3},
                 "encoding": {"x": {"datum": 17, "type": "quantitative"}, "x2": {"datum": 82}, "y": {"datum": -12, "type": "quantitative", "scale": {"domain": [0, 100], "nice": false}, "axis": null}}},
                {"mark": {"type": "point", "shape": "triangle-right", "filled": true, "color": "#000", "size": 45, "opacity": 1},
                 "encoding": {"x": {"datum": 84, "type": "quantitative"}, "y": {"datum": -12, "type": "quantitative", "scale": {"domain": [0, 100], "nice": false}, "axis": null}}}
              ]
            },
            {
              "width": 127, "height": 85,
              "title": {"text": "G", "dx": -71, "dy": 13, "offset": 0},
              "resolve": {"axis": {"x": "independent", "y": "independent"}},
              "layer": [
                {"data": {"name": "barsG"}, "mark": {"type": "bar"},
                 "encoding": {
                   "x": {"field": "cond", "type": "nominal", "sort": null, "scale": {"domain": ["Mock", "Staurosporine", "HPIV3", "HPIV3/ΔF-HN/EboGP"], "paddingInner": 0.32, "paddingOuter": 0.21}, "axis": {"labelAngle": -45, "title": null, "labelFontSize": 12.5}},
                   "y": {"field": "val", "type": "quantitative", "scale": {"domain": [0, 100], "nice": false}, "axis": {"values": [0, 20, 40, 60, 80, 100], "title": "Caspase 8⁺· %", "titleFontSize": 11, "labelFontSize": 13, "titlePadding": 5, "labelOverlap": false}},
                   "color": {"field": "cond", "type": "nominal", "sort": null, "scale": {"domain": ["Mock", "Staurosporine", "HPIV3", "HPIV3/ΔF-HN/EboGP"], "range": ["#8c8c8c", "#1414f0", "#000000", "#14c814"]}, "legend": null}
                 }},
                {"data": {"name": "barsG"}, "mark": {"type": "rule", "color": "#000", "strokeWidth": 1.5},
                 "encoding": {"x": {"field": "cond", "type": "nominal", "sort": null, "axis": null}, "y": {"field": "lo", "type": "quantitative", "axis": null}, "y2": {"field": "hi"}}},
                {"data": {"name": "barsG"}, "mark": {"type": "tick", "color": "#000", "size": 11, "thickness": 1.5},
                 "encoding": {"x": {"field": "cond", "type": "nominal", "sort": null, "axis": null}, "y": {"field": "lo", "type": "quantitative", "axis": null}}},
                {"data": {"name": "barsG"}, "mark": {"type": "tick", "color": "#000", "size": 11, "thickness": 1.5},
                 "encoding": {"x": {"field": "cond", "type": "nominal", "sort": null, "axis": null}, "y": {"field": "hi", "type": "quantitative", "axis": null}}},
                {"data": {"name": "sigG"}, "mark": {"type": "rule", "color": "#333", "strokeWidth": 1},
                 "encoding": {"x": {"field": "a", "type": "nominal", "sort": null, "axis": null}, "x2": {"field": "b"}, "y": {"field": "h", "type": "quantitative", "axis": null}}},
                {"data": {"name": "sigG"}, "mark": {"type": "text", "color": "#777", "fontSize": 9, "dx": 15.5, "dy": -6},
                 "encoding": {"x": {"field": "a", "type": "nominal", "sort": null, "axis": null}, "y": {"field": "h", "type": "quantitative", "axis": null}, "text": {"field": "stars"}}}
              ]
            }
          ]
        }
      ]
    }
  ]
}
